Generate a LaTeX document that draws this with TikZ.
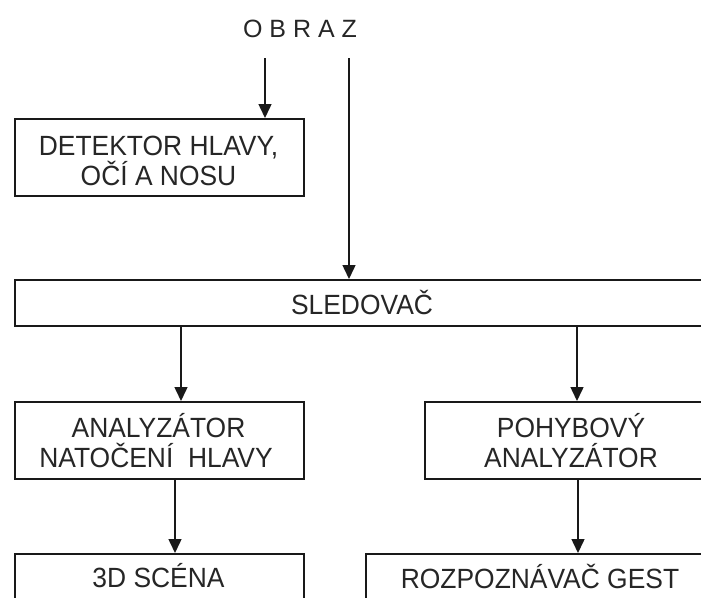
\documentclass[tikz,border=0pt]{standalone}
\usepackage{fontspec}
\setmainfont{Liberation Sans}
\newfontfamily\narrowfont[FakeStretch=0.95]{Liberation Sans}
\usetikzlibrary{arrows.meta}
\begin{document}
\begin{tikzpicture}[x=1pt,y=-1pt,
  blk/.style={draw=black!90, line width=1.5pt, rectangle, inner sep=0pt, anchor=north west},
  txt/.style={font=\narrowfont\fontsize{27.8}{30}\selectfont, text=black!85, anchor=base, inner sep=0pt},
  arr/.style={draw=black!90, line width=1.5pt, -{Triangle[length=14pt,width=13pt]}},
  ln/.style={draw=black!90, line width=1.5pt}]
\useasboundingbox (0,0) rectangle (701,597);
\clip (0,0) rectangle (701,597);
\fill[white] (0,0) rectangle (701,597);

% boxes
\node[blk, minimum width=289pt, minimum height=77pt] (det) at (14,118) {};
\node[blk, minimum width=696pt, minimum height=46pt] (sled) at (14,279) {};
\node[blk, minimum width=289pt, minimum height=77pt] (anal) at (14,401) {};
\node[blk, minimum width=294pt, minimum height=77pt] (pohyb) at (424,401) {};
\node[blk, minimum width=289pt, minimum height=50pt] (scena) at (14,553) {};
\node[blk, minimum width=350pt, minimum height=50pt] (rozp) at (365,553) {};

% texts
\node[txt, font=\fontsize{25}{30}\selectfont] (obraz) at (300,37) {O B R A Z};
\node[txt] (det1) at (158.5,155) {DETEKTOR HLAVY,};
\node[txt] (det2) at (158.5,185) {OČÍ A NOSU};
\node[txt] (sledt) at (362,314) {SLEDOVAČ};
\node[txt] (anal1) at (158.5,437) {ANALYZÁTOR};
\node[txt] (anal2) at (156,467) {NATOČENÍ\ \ HLAVY};
\node[txt] (pohyb1) at (571,437) {POHYBOVÝ};
\node[txt] (pohyb2) at (571,467) {ANALYZÁTOR};
\node[txt] (scenat) at (158.5,587) {3D SCÉNA};
\node[txt] (rozpt) at (540,588) {ROZPOZNÁVAČ GEST};

% connector start points
\coordinate (o1) at (265,58);
\coordinate (o2) at (349,58);
\coordinate (xa) at (181,0);
\coordinate (xb) at (577,0);
\coordinate (xc) at (175,0);
\coordinate (xd) at (578,0);

% connectors
\draw[arr] (o1) -- (o1 |- det.north);
\draw[arr] (o2) -- (o2 |- sled.north);
\draw[arr] (xa |- sled.south) -- (xa |- anal.north);
\draw[arr] (xb |- sled.south) -- (xb |- pohyb.north);
\draw[arr] (xc |- anal.south) -- (xc |- scena.north);
\draw[arr] (xd |- pohyb.south) -- (xd |- rozp.north);
\end{tikzpicture}
\end{document}
